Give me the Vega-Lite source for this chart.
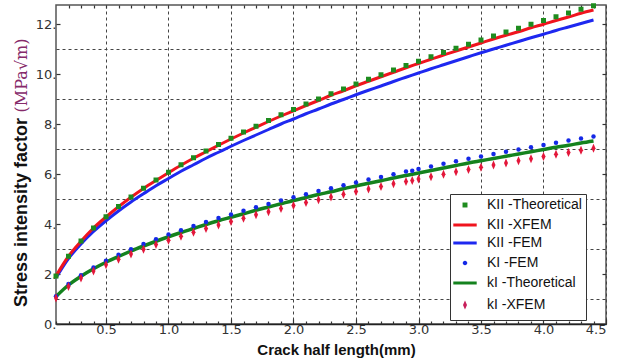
{
"$schema": "https://vega.github.io/schema/vega-lite/v6.json",
"width": 550, "height": 319,
"autosize": {"type": "none"},
"padding": {"left": 56, "top": 5, "right": 18, "bottom": 39},
"background": "white",
"config": {
  "view": {"stroke": "#555", "strokeWidth": 1.5},
  "axis": {"labelFont": "DejaVu Sans", "labelFontSize": 13, "labelColor": "#333", "tickColor": "#333", "tickWidth": 1.2, "domainColor": "#333", "gridColor": "#444", "gridDash": [3, 3], "gridWidth": 1, "gridOpacity": 1, "titleFont": "Liberation Sans", "titleFontWeight": "bold", "titleFontSize": 15, "titleColor": "#111"},
  "legend": {"title": null, "orient": "none", "legendX": 394, "legendY": 189, "fillColor": "white", "strokeColor": "#333", "padding": 4, "symbolSize": 81, "symbolStrokeWidth": 3, "symbolOffset": 4, "labelFont": "Liberation Sans", "labelFontSize": 14, "labelColor": "#111", "labelOffset": 15, "rowPadding": 4}
},
"data": {"values": [
{"s":"A","x":0.1,"k":1.92},{"s":"A","x":0.2,"k":2.71},{"s":"A","x":0.3,"k":3.32},{"s":"A","x":0.4,"k":3.84},{"s":"A","x":0.5,"k":4.29},{"s":"A","x":0.6,"k":4.70},{"s":"A","x":0.7,"k":5.08},{"s":"A","x":0.8,"k":5.43},{"s":"A","x":0.9,"k":5.76},{"s":"A","x":1.0,"k":6.07},{"s":"A","x":1.1,"k":6.37},{"s":"A","x":1.2,"k":6.65},{"s":"A","x":1.3,"k":6.92},{"s":"A","x":1.4,"k":7.18},{"s":"A","x":1.5,"k":7.43},{"s":"A","x":1.6,"k":7.68},{"s":"A","x":1.7,"k":7.91},{"s":"A","x":1.8,"k":8.14},{"s":"A","x":1.9,"k":8.37},{"s":"A","x":2.0,"k":8.58},{"s":"A","x":2.1,"k":8.80},{"s":"A","x":2.2,"k":9.00},{"s":"A","x":2.3,"k":9.21},{"s":"A","x":2.4,"k":9.40},{"s":"A","x":2.5,"k":9.60},{"s":"A","x":2.6,"k":9.79},{"s":"A","x":2.7,"k":9.97},{"s":"A","x":2.8,"k":10.16},{"s":"A","x":2.9,"k":10.34},{"s":"A","x":3.0,"k":10.51},{"s":"A","x":3.1,"k":10.69},{"s":"A","x":3.2,"k":10.86},{"s":"A","x":3.3,"k":11.03},{"s":"A","x":3.4,"k":11.19},{"s":"A","x":3.5,"k":11.36},{"s":"A","x":3.6,"k":11.52},{"s":"A","x":3.7,"k":11.68},{"s":"A","x":3.8,"k":11.83},{"s":"A","x":3.9,"k":11.99},{"s":"A","x":4.0,"k":12.14},{"s":"A","x":4.1,"k":12.29},{"s":"A","x":4.2,"k":12.44},{"s":"A","x":4.3,"k":12.59},{"s":"A","x":4.4,"k":12.73},
{"s":"B","x":0.1,"k":1.92},{"s":"B","x":0.2,"k":2.71},{"s":"B","x":0.3,"k":3.31},{"s":"B","x":0.4,"k":3.84},{"s":"B","x":0.5,"k":4.28},{"s":"B","x":0.6,"k":4.69},{"s":"B","x":0.7,"k":5.07},{"s":"B","x":0.8,"k":5.42},{"s":"B","x":0.9,"k":5.74},{"s":"B","x":1.0,"k":6.05},{"s":"B","x":1.1,"k":6.35},{"s":"B","x":1.2,"k":6.63},{"s":"B","x":1.3,"k":6.89},{"s":"B","x":1.4,"k":7.15},{"s":"B","x":1.5,"k":7.40},{"s":"B","x":1.6,"k":7.64},{"s":"B","x":1.7,"k":7.87},{"s":"B","x":1.8,"k":8.10},{"s":"B","x":1.9,"k":8.32},{"s":"B","x":2.0,"k":8.53},{"s":"B","x":2.1,"k":8.74},{"s":"B","x":2.2,"k":8.94},{"s":"B","x":2.3,"k":9.15},{"s":"B","x":2.4,"k":9.33},{"s":"B","x":2.5,"k":9.53},{"s":"B","x":2.6,"k":9.71},{"s":"B","x":2.7,"k":9.89},{"s":"B","x":2.8,"k":10.07},{"s":"B","x":2.9,"k":10.25},{"s":"B","x":3.0,"k":10.42},{"s":"B","x":3.1,"k":10.59},{"s":"B","x":3.2,"k":10.76},{"s":"B","x":3.3,"k":10.92},{"s":"B","x":3.4,"k":11.08},{"s":"B","x":3.5,"k":11.24},{"s":"B","x":3.6,"k":11.40},{"s":"B","x":3.7,"k":11.55},{"s":"B","x":3.8,"k":11.69},{"s":"B","x":3.9,"k":11.85},{"s":"B","x":4.0,"k":11.99},{"s":"B","x":4.1,"k":12.14},{"s":"B","x":4.2,"k":12.28},{"s":"B","x":4.3,"k":12.43},{"s":"B","x":4.4,"k":12.56},
{"s":"C","x":0.1,"k":1.85},{"s":"C","x":0.2,"k":2.62},{"s":"C","x":0.3,"k":3.20},{"s":"C","x":0.4,"k":3.70},{"s":"C","x":0.5,"k":4.13},{"s":"C","x":0.6,"k":4.52},{"s":"C","x":0.7,"k":4.88},{"s":"C","x":0.8,"k":5.21},{"s":"C","x":0.9,"k":5.53},{"s":"C","x":1.0,"k":5.82},{"s":"C","x":1.1,"k":6.11},{"s":"C","x":1.2,"k":6.37},{"s":"C","x":1.3,"k":6.63},{"s":"C","x":1.4,"k":6.87},{"s":"C","x":1.5,"k":7.11},{"s":"C","x":1.6,"k":7.34},{"s":"C","x":1.7,"k":7.56},{"s":"C","x":1.8,"k":7.78},{"s":"C","x":1.9,"k":8.00},{"s":"C","x":2.0,"k":8.20},{"s":"C","x":2.1,"k":8.41},{"s":"C","x":2.2,"k":8.60},{"s":"C","x":2.3,"k":8.80},{"s":"C","x":2.4,"k":8.98},{"s":"C","x":2.5,"k":9.17},{"s":"C","x":2.6,"k":9.35},{"s":"C","x":2.7,"k":9.52},{"s":"C","x":2.8,"k":9.70},{"s":"C","x":2.9,"k":9.87},{"s":"C","x":3.0,"k":10.04},{"s":"C","x":3.1,"k":10.21},{"s":"C","x":3.2,"k":10.37},{"s":"C","x":3.3,"k":10.53},{"s":"C","x":3.4,"k":10.69},{"s":"C","x":3.5,"k":10.85},{"s":"C","x":3.6,"k":11.00},{"s":"C","x":3.7,"k":11.15},{"s":"C","x":3.8,"k":11.30},{"s":"C","x":3.9,"k":11.45},{"s":"C","x":4.0,"k":11.59},{"s":"C","x":4.1,"k":11.74},{"s":"C","x":4.2,"k":11.88},{"s":"C","x":4.3,"k":12.02},{"s":"C","x":4.4,"k":12.16},
{"s":"D","x":0.1,"k":1.11},{"s":"D","x":0.2,"k":1.60},{"s":"D","x":0.3,"k":1.95},{"s":"D","x":0.4,"k":2.26},{"s":"D","x":0.5,"k":2.53},{"s":"D","x":0.6,"k":2.77},{"s":"D","x":0.7,"k":2.99},{"s":"D","x":0.8,"k":3.20},{"s":"D","x":0.9,"k":3.39},{"s":"D","x":1.0,"k":3.58},{"s":"D","x":1.1,"k":3.75},{"s":"D","x":1.2,"k":3.92},{"s":"D","x":1.3,"k":4.08},{"s":"D","x":1.4,"k":4.24},{"s":"D","x":1.5,"k":4.38},{"s":"D","x":1.6,"k":4.53},{"s":"D","x":1.7,"k":4.67},{"s":"D","x":1.8,"k":4.80},{"s":"D","x":1.9,"k":4.94},{"s":"D","x":2.0,"k":5.07},{"s":"D","x":2.1,"k":5.19},{"s":"D","x":2.2,"k":5.32},{"s":"D","x":2.3,"k":5.43},{"s":"D","x":2.4,"k":5.55},{"s":"D","x":2.5,"k":5.66},{"s":"D","x":2.6,"k":5.78},{"s":"D","x":2.7,"k":5.88},{"s":"D","x":2.8,"k":5.99},{"s":"D","x":2.9,"k":6.10},{"s":"D","x":2.95,"k":6.13},{"s":"D","x":3.0,"k":6.20},{"s":"D","x":3.1,"k":6.30},{"s":"D","x":3.2,"k":6.41},{"s":"D","x":3.3,"k":6.51},{"s":"D","x":3.4,"k":6.61},{"s":"D","x":3.5,"k":6.70},{"s":"D","x":3.6,"k":6.80},{"s":"D","x":3.7,"k":6.89},{"s":"D","x":3.8,"k":6.98},{"s":"D","x":3.9,"k":7.07},{"s":"D","x":4.0,"k":7.16},{"s":"D","x":4.1,"k":7.25},{"s":"D","x":4.2,"k":7.34},{"s":"D","x":4.3,"k":7.42},{"s":"D","x":4.4,"k":7.50},
{"s":"E","x":0.1,"k":1.10},{"s":"E","x":0.2,"k":1.56},{"s":"E","x":0.3,"k":1.91},{"s":"E","x":0.4,"k":2.21},{"s":"E","x":0.5,"k":2.47},{"s":"E","x":0.6,"k":2.70},{"s":"E","x":0.7,"k":2.92},{"s":"E","x":0.8,"k":3.12},{"s":"E","x":0.9,"k":3.31},{"s":"E","x":1.0,"k":3.49},{"s":"E","x":1.1,"k":3.66},{"s":"E","x":1.2,"k":3.82},{"s":"E","x":1.3,"k":3.98},{"s":"E","x":1.4,"k":4.13},{"s":"E","x":1.5,"k":4.27},{"s":"E","x":1.6,"k":4.41},{"s":"E","x":1.7,"k":4.55},{"s":"E","x":1.8,"k":4.68},{"s":"E","x":1.9,"k":4.81},{"s":"E","x":2.0,"k":4.94},{"s":"E","x":2.1,"k":5.06},{"s":"E","x":2.2,"k":5.18},{"s":"E","x":2.3,"k":5.29},{"s":"E","x":2.4,"k":5.41},{"s":"E","x":2.5,"k":5.52},{"s":"E","x":2.6,"k":5.63},{"s":"E","x":2.7,"k":5.73},{"s":"E","x":2.8,"k":5.84},{"s":"E","x":2.9,"k":5.94},{"s":"E","x":3.0,"k":6.04},{"s":"E","x":3.1,"k":6.14},{"s":"E","x":3.2,"k":6.24},{"s":"E","x":3.3,"k":6.34},{"s":"E","x":3.4,"k":6.44},{"s":"E","x":3.5,"k":6.53},{"s":"E","x":3.6,"k":6.62},{"s":"E","x":3.7,"k":6.71},{"s":"E","x":3.8,"k":6.80},{"s":"E","x":3.9,"k":6.89},{"s":"E","x":4.0,"k":6.98},{"s":"E","x":4.1,"k":7.07},{"s":"E","x":4.2,"k":7.15},{"s":"E","x":4.3,"k":7.24},{"s":"E","x":4.4,"k":7.32},
{"s":"F","x":0.1,"k":1.04},{"s":"F","x":0.2,"k":1.50},{"s":"F","x":0.3,"k":1.84},{"s":"F","x":0.4,"k":2.12},{"s":"F","x":0.5,"k":2.37},{"s":"F","x":0.6,"k":2.59},{"s":"F","x":0.7,"k":2.80},{"s":"F","x":0.8,"k":2.99},{"s":"F","x":0.9,"k":3.18},{"s":"F","x":1.0,"k":3.35},{"s":"F","x":1.1,"k":3.51},{"s":"F","x":1.2,"k":3.67},{"s":"F","x":1.3,"k":3.82},{"s":"F","x":1.4,"k":3.96},{"s":"F","x":1.5,"k":4.10},{"s":"F","x":1.6,"k":4.23},{"s":"F","x":1.7,"k":4.37},{"s":"F","x":1.8,"k":4.49},{"s":"F","x":1.9,"k":4.62},{"s":"F","x":2.0,"k":4.74},{"s":"F","x":2.1,"k":4.86},{"s":"F","x":2.2,"k":4.97},{"s":"F","x":2.3,"k":5.08},{"s":"F","x":2.4,"k":5.19},{"s":"F","x":2.5,"k":5.30},{"s":"F","x":2.6,"k":5.40},{"s":"F","x":2.7,"k":5.50},{"s":"F","x":2.8,"k":5.61},{"s":"F","x":2.9,"k":5.70},{"s":"F","x":2.95,"k":5.74},{"s":"F","x":3.0,"k":5.80},{"s":"F","x":3.1,"k":5.89},{"s":"F","x":3.2,"k":5.99},{"s":"F","x":3.3,"k":6.09},{"s":"F","x":3.4,"k":6.18},{"s":"F","x":3.5,"k":6.27},{"s":"F","x":3.6,"k":6.36},{"s":"F","x":3.7,"k":6.44},{"s":"F","x":3.8,"k":6.53},{"s":"F","x":3.9,"k":6.61},{"s":"F","x":4.0,"k":6.70},{"s":"F","x":4.1,"k":6.79},{"s":"F","x":4.2,"k":6.86},{"s":"F","x":4.3,"k":6.95},{"s":"F","x":4.4,"k":7.03}
]},
"resolve": {"axis": {"x": "independent", "y": "independent"}},
"layer": [
  {
    "transform": [{"filter": "datum.s == 'C'"}],
    "mark": {"type": "line", "strokeWidth": 3, "interpolate": "monotone", "color": "#1e28f0"},
    "encoding": {
      "x": {"field": "x", "type": "quantitative", "scale": {"domain": [0.1, 4.5], "nice": false, "zero": false},
        "axis": {"orient": "bottom", "values": [0.5, 1.0, 1.5, 2.0, 2.5, 3.0, 3.5, 4.0, 4.5], "format": ".1f", "grid": true, "tickSize": -5, "labelPadding": 4, "domain": true, "domainColor": "#222", "domainWidth": 1.5, "title": "Crack half length(mm)", "titleX": 280, "titleY": 30, "titleBaseline": "alphabetic", "titleAlign": "center"}},
      "y": {"field": "k", "type": "quantitative", "scale": {"domain": [0, 12.76], "nice": false, "zero": false},
        "axis": {"orient": "left", "values": [0, 2, 4, 6, 8, 10, 12], "labelExpr": "datum.value + '.'", "grid": false, "tickSize": -4, "labelPadding": 4, "domain": false, "title": "Stress intensity factor", "titleFontSize": 18, "titleX": -35, "titleY": 207, "titleAngle": 270, "titleAlign": "center", "titleBaseline": "middle"}}
    }
  },
  {
    "transform": [{"filter": "datum.s == 'B'"}],
    "mark": {"type": "line", "strokeWidth": 3, "interpolate": "monotone", "color": "#f0141e"},
    "encoding": {
      "x": {"field": "x", "type": "quantitative", "scale": {"domain": [0.1, 4.5], "nice": false, "zero": false},
        "axis": {"orient": "bottom", "values": [0.1,0.2,0.3,0.4,0.6,0.7,0.8,0.9,1.1,1.2,1.3,1.4,1.6,1.7,1.8,1.9,2.1,2.2,2.3,2.4,2.6,2.7,2.8,2.9,3.1,3.2,3.3,3.4,3.6,3.7,3.8,3.9,4.1,4.2,4.3,4.4], "labels": false, "grid": false, "tickSize": -3, "domain": false, "title": null}},
      "y": {"field": "k", "type": "quantitative", "scale": {"domain": [0, 12.76], "nice": false, "zero": false},
        "axis": {"orient": "left", "values": [1, 3, 5, 7, 9, 11], "labels": false, "ticks": false, "grid": true, "domain": false, "title": "(MPa√m)", "titleFont": "DejaVu Serif", "titleFontWeight": "normal", "titleFontSize": 16, "titleColor": "#862a6a", "titleX": -35, "titleY": 70, "titleAngle": 270, "titleAlign": "center", "titleBaseline": "middle"}}
    }
  },
  {
    "transform": [{"filter": "datum.s == 'E'"}],
    "mark": {"type": "line", "strokeWidth": 3.5, "interpolate": "monotone", "color": "#14821e"},
    "encoding": {
      "x": {"field": "x", "type": "quantitative", "scale": {"domain": [0.1, 4.5], "nice": false, "zero": false},
        "axis": {"orient": "top", "values": [0.2,0.3,0.4,0.5,0.6,0.7,0.8,0.9,1.0,1.1,1.2,1.3,1.4,1.5,1.6,1.7,1.8,1.9,2.0,2.1,2.2,2.3,2.4,2.5,2.6,2.7,2.8,2.9,3.0,3.1,3.2,3.3,3.4,3.5,3.6,3.7,3.8,3.9,4.0,4.1,4.2,4.3,4.4], "labels": false, "grid": false, "tickSize": -3, "domain": false, "title": null}},
      "y": {"field": "k", "type": "quantitative", "scale": {"domain": [0, 12.76], "nice": false, "zero": false},
        "axis": {"orient": "right", "values": [2, 4, 6, 8, 10, 12], "labels": false, "grid": false, "tickSize": -4, "domain": false, "title": null}}
    }
  },
  {
    "transform": [{"filter": "datum.s == 'A'"}],
    "mark": {"type": "point", "shape": "square", "filled": true, "size": 25, "opacity": 1, "color": "#1e8c1e"},
    "encoding": {
      "x": {"field": "x", "type": "quantitative", "axis": null},
      "y": {"field": "k", "type": "quantitative", "axis": null}
    }
  },
  {
    "transform": [{"filter": "datum.s == 'D'"}],
    "mark": {"type": "point", "shape": "circle", "filled": true, "size": 20, "opacity": 1, "color": "#1428e6"},
    "encoding": {
      "x": {"field": "x", "type": "quantitative", "axis": null},
      "y": {"field": "k", "type": "quantitative", "axis": null}
    }
  },
  {
    "transform": [{"filter": "datum.s == 'F'"}],
    "mark": {"type": "point", "shape": "M0,-1L0.45,0L0,1L-0.45,0Z", "filled": true, "size": 81, "opacity": 1, "color": "#e3173a"},
    "encoding": {
      "x": {"field": "x", "type": "quantitative", "axis": null},
      "y": {"field": "k", "type": "quantitative", "axis": null}
    }
  },
  {
    "transform": [{"filter": "datum.s == 'none'"}],
    "mark": {"type": "point", "filled": true, "opacity": 1},
    "encoding": {
      "x": {"field": "x", "type": "quantitative", "axis": null},
      "y": {"field": "k", "type": "quantitative", "axis": null},
      "color": {"field": "s", "type": "nominal",
        "scale": {"domain": ["A", "B", "C", "D", "E", "F"], "range": ["#1e8c1e", "#f0141e", "#1e28f0", "#1428e6", "#14821e", "#c81e5a"]},
        "legend": {"labelExpr": "datum.value == 'A' ? 'KII -Theoretical' : datum.value == 'B' ? 'KII -XFEM' : datum.value == 'C' ? 'KII -FEM' : datum.value == 'D' ? 'KI -FEM' : datum.value == 'E' ? 'kI -Theoretical' : 'kI -XFEM'"}},
      "stroke": {"field": "s", "type": "nominal",
        "scale": {"domain": ["A", "B", "C", "D", "E", "F"], "range": ["transparent", "#f0141e", "#1e28f0", "transparent", "#14821e", "transparent"]},
        "legend": {"labelExpr": "datum.value == 'A' ? 'KII -Theoretical' : datum.value == 'B' ? 'KII -XFEM' : datum.value == 'C' ? 'KII -FEM' : datum.value == 'D' ? 'KI -FEM' : datum.value == 'E' ? 'kI -Theoretical' : 'kI -XFEM'"}},
      "shape": {"field": "s", "type": "nominal",
        "scale": {"domain": ["A", "B", "C", "D", "E", "F"], "range": ["M-0.55,-0.55H0.55V0.55H-0.55Z", "M-2.6,0H2.6", "M-2.6,0H2.6", "M-0.5,0A0.5,0.5,0,1,1,0.5,0A0.5,0.5,0,1,1,-0.5,0Z", "M-2.6,0H2.6", "M0,-1L0.45,0L0,1L-0.45,0Z"]},
        "legend": {"labelExpr": "datum.value == 'A' ? 'KII -Theoretical' : datum.value == 'B' ? 'KII -XFEM' : datum.value == 'C' ? 'KII -FEM' : datum.value == 'D' ? 'KI -FEM' : datum.value == 'E' ? 'kI -Theoretical' : 'kI -XFEM'"}}
    }
  }
]
}
